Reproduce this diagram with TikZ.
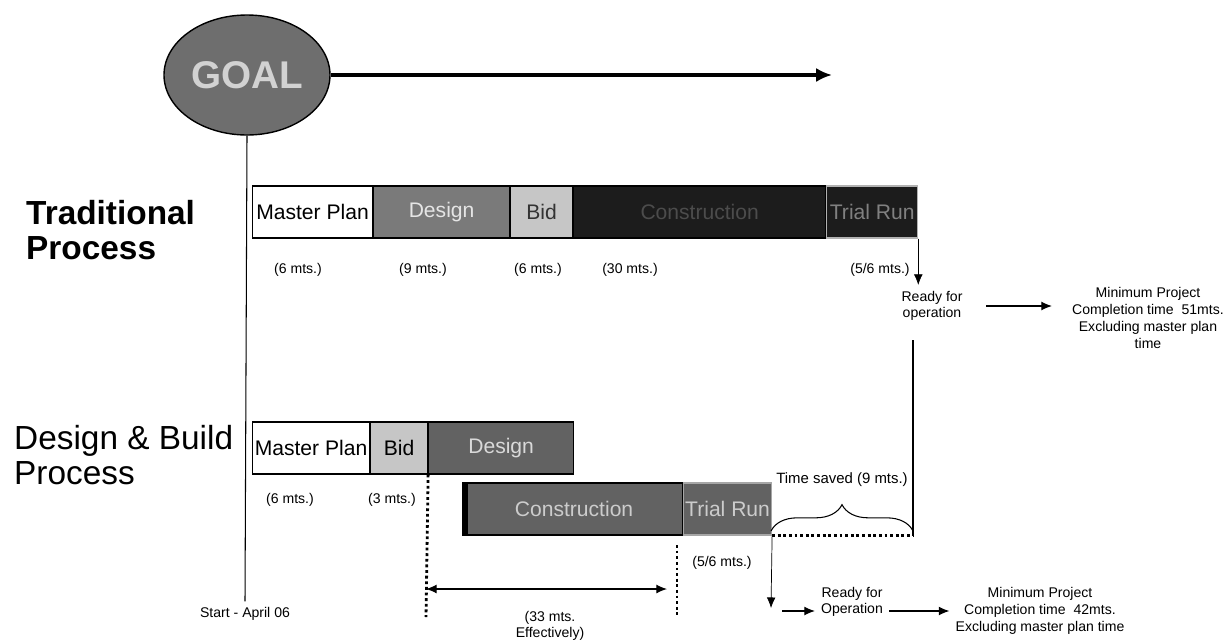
\documentclass[tikz,border=0pt]{standalone}
\usepackage{fontspec}
\setmainfont{Liberation Sans}
\usetikzlibrary{arrows.meta,shapes.geometric,decorations.pathreplacing}
\definecolor{goalgray}{HTML}{6E6E6E}
\definecolor{midgray}{HTML}{7A7A7A}
\definecolor{paleGray}{HTML}{C6C6C6}
\definecolor{nearblack}{HTML}{1C1C1C}
\definecolor{dbgray}{HTML}{626262}

\begin{document}
\begin{tikzpicture}[x=0.02cm, y=-0.02cm,
  seg/.style={draw=black, semithick, anchor=west, inner sep=0pt,
              minimum height=52*0.02cm, font=\fontsize{12}{14}\selectfont},
  dur/.style={font=\fontsize{8}{9}\selectfont},
  note/.style={font=\fontsize{8}{9.5}\selectfont, align=center},
  proc/.style={anchor=west, align=left, font=\fontsize{19}{20}\selectfont},
  dots/.style={line width=1.6pt, dash pattern=on 1.6pt off 1.6pt},
  >={Latex[length=6pt,width=5pt]}]
  \useasboundingbox (0,0) rectangle (1223,643);

  % Goal and its arrow
  \node[ellipse, draw=black, thick, fill=goalgray, minimum width=166*0.02cm,
        minimum height=120*0.02cm, inner sep=0pt, text=gray!35,
        font=\fontsize{22}{22}\selectfont\bfseries] (goal) at (247,75) {GOAL};
  \coordinate (goalEnd) at (832,75);
  \draw[line width=2.2pt, -{Latex[length=9pt,width=8pt]}] (goal.east) -- (goalEnd);

  % Start line
  \node[dur] (start) at (245,614) {Start - April 06};
  \draw[semithick] (goal.south) -- (start.north);

  % Traditional process
  \node[proc, font=\fontsize{19}{20}\selectfont\bfseries] (trad) at (20,230) {Traditional\\Process};
  \node[seg, fill=white, minimum width=120*0.02cm] (tmp) at (252,212) {Master Plan};
  \node[seg, fill=midgray, text=gray!20, minimum width=136*0.02cm] (tds) at (tmp.east) {Design};
  \node[seg, fill=paleGray, text=black!80, minimum width=62*0.02cm] (tbd) at (tds.east) {Bid};
  \node[seg, fill=nearblack, text=gray!60!black, minimum width=252*0.02cm] (tcn) at (tbd.east) {Construction};
  \node[seg, fill=nearblack, draw=gray!60, text=gray, minimum width=91*0.02cm] (ttr) at (tcn.east) {Trial Run};

  \node[dur] (d1) at (298,270) {(6 mts.)};
  \node[dur] (d2) at (423,270) {(9 mts.)};
  \node[dur] (d3) at (538,270) {(6 mts.)};
  \node[dur] (d4) at (630,270) {(30 mts.)};
  \node[dur] (d5) at (880,270) {(5/6 mts.)};

  \node[note] (rdy1) at (932,306) {Ready for\\operation};
  \node[note] (min1) at (1148,318) {Minimum Project\\Completion time~~51mts.\\Excluding master plan\\time};
  \draw[->] (ttr.south east) -- (ttr.south east |- rdy1.north);
  \draw[->, semithick, shorten <=10pt, shorten >=8pt] (rdy1.east) -- (rdy1.east -| min1.west);

  % Design & Build process
  \node[proc] (dnb) at (8,455) {Design \& Build\\Process};
  \node[seg, fill=white, minimum width=117*0.02cm] (dmp) at (252,448) {Master Plan};
  \node[seg, fill=paleGray, minimum width=57*0.02cm] (dbd) at (dmp.east) {Bid};
  \node[seg, fill=dbgray, text=gray!30, minimum width=145*0.02cm] (dds) at (dbd.east) {Design};
  \node[dur] (d6) at (290,500) {(6 mts.)};
  \node[dur] (d7) at (392,500) {(3 mts.)};

  \node[seg, fill=dbgray, text=gray!40, minimum width=217*0.02cm] (dcn) at (465,509) {Construction};
  \node[seg, fill=dbgray, draw=gray!70, text=gray!40, minimum width=88*0.02cm] (dtr) at (dcn.east) {Trial Run};
  \draw[line width=3pt] (dcn.north west) -- (dcn.south west);

  % Time saved
  \coordinate (saveTop) at (913,340);
  \draw[semithick] (saveTop) -- (saveTop |- dtr.south);
  \node[font=\fontsize{8.5}{10}\selectfont] (saved) at (842,480) {Time saved (9 mts.)};
  \coordinate (braceL) at (771,531);
  \coordinate (braceR) at (913,531);
  \draw[semithick, decorate, decoration={brace, amplitude=15pt}] (braceL) -- (braceR);
  \draw[dots] (dtr.south east) -- (saveTop |- dtr.south);

  % 33 months effectively
  \coordinate (gA) at (426,617);
  \coordinate (gB1) at (677,545);
  \coordinate (gB2) at (677,617);
  \draw[dots] (dbd.south east) -- (gA);
  \draw[dots] (gB1) -- (gB2);
  \node[dur] (d8) at (722,563) {(5/6 mts.)};
  \coordinate (effL) at (426,589);
  \coordinate (effR) at (667,589);
  \draw[<->, semithick] (effL) -- (effR);
  \node[note] (eff) at (550,626) {(33 mts.\\Effectively)};

  % Ready for operation (design & build)
  \node[note] (rdy2) at (852,602) {Ready for\\Operation};
  \node[note] (min2) at (1040,611) {Minimum Project\\Completion time~~42mts.\\Excluding master plan time};
  \coordinate (arr2) at (771,608);
  \coordinate (op) at (782,611);
  \draw[->] (dtr.south east) -- (arr2);
  \draw[->, semithick] (op) -- (op -| rdy2.west);
  \draw[->, semithick] (rdy2.east |- op) -- (min2.west |- op);
\end{tikzpicture}
\end{document}
